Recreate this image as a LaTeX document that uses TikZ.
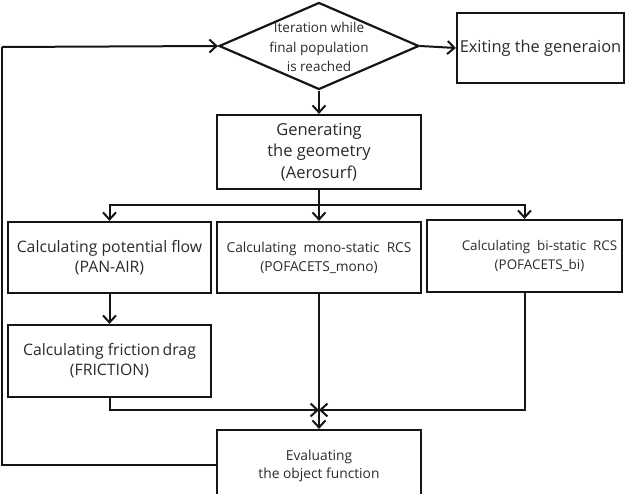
\documentclass[tikz,border=0pt]{standalone}
\usepackage{fontspec}
\setmainfont{Open Sans}
\usetikzlibrary{shapes.geometric,arrows.meta}
\definecolor{ln}{HTML}{151515}
\definecolor{tx}{HTML}{2A2A2A}
\tikzset{
  x=1pt,y=-1pt,
  box/.style={draw=ln,line width=2.2pt,rectangle,inner sep=0pt,align=center,text=tx,font=\fontsize{15.8}{20}\selectfont},
  smalltext/.style={font=\fontsize{13.7}{19}\selectfont},
  arr/.style={draw=ln,line width=2pt,-{Straight Barb[length=7pt,width=13pt,line width=2pt]}},
  conn/.style={draw=ln,line width=2pt},
}
\begin{document}
\begin{tikzpicture}
\useasboundingbox (0,0) rectangle (637,494);
\clip (0,0) rectangle (637,494);
\node[draw=ln,line width=2.2pt,diamond,minimum width=200pt,minimum height=87pt,inner sep=0pt] (dia) at (319,46) {};
\node[text=tx,align=center,font=\fontsize{13.5}{19.5}\selectfont] (diat) at (319,47) {Iteration while\\final population\\is reached};
\node[box,minimum width=167pt,minimum height=70pt,font=\fontsize{16.4}{20}\selectfont] (exitb) at (540.5,48) {Exiting the generaion};
\node[box,minimum width=204pt,minimum height=74pt,font=\fontsize{16.5}{21.5}\selectfont] (gen) at (319,152) {Generating\\the geometry\\(Aerosurf)};
\node[box,minimum width=203pt,minimum height=71pt] (b1) at (109.5,257.5) {Calculating potential flow\\(PAN-AIR)};
\node[box,smalltext,minimum width=204pt,minimum height=71pt] (b2) at (319,257.5) {Calculating\ \ mono-static\ \ RCS\\(POFACETS\_mono)};
\node[box,smalltext,font=\fontsize{13.4}{19}\selectfont,minimum width=195pt,minimum height=72pt] (b3) at (524.5,256) {\hspace*{30pt}Calculating\ \ bi-static\ \ RCS\\\hspace*{30pt}(POFACETS\_bi)};
\node[box,minimum width=203pt,minimum height=72pt] (fr) at (109.5,361) {Calculating friction\,drag\\(FRICTION)};
\node[box,smalltext,font=\fontsize{13.8}{18}\selectfont,minimum width=204pt,minimum height=72pt] (ev) at (319,466) {Evaluating\\the\ object\ function};
\coordinate (br) at (319,205);
\coordinate (m) at (319,410);
\coordinate (lb) at (2,465);
\coordinate (lt) at (2,47);
\draw[arr] (dia.east) -- (exitb.west);
\draw[arr] (dia.south) -- (gen.north);
\draw[conn] (gen.south) -- (br);
\draw[arr] (br) -| (b1.north);
\draw[arr] (br) -- (b2.north);
\draw[arr] (br) -| (b3.north);
\draw[arr] (b1.south) -- (fr.north);
\draw[arr] (fr.south) |- (m);
\draw[arr] (b3.south) |- (m);
\draw[arr] (b2.south) -- (ev.north);
\draw[conn] (ev.west |- lb) -- (lb) -- (lt);
\draw[arr] (lt) -- (dia.west);
\end{tikzpicture}
\end{document}
